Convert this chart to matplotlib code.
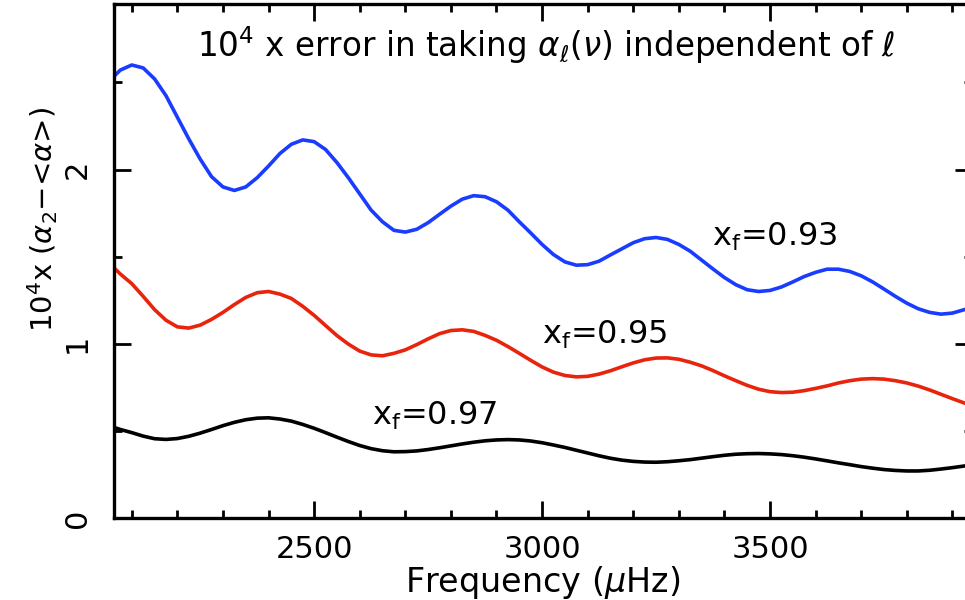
import numpy as np
import matplotlib
matplotlib.use("Agg")
import matplotlib.pyplot as plt
from matplotlib.ticker import MultipleLocator

# frequency grid (muHz)
freq = [2061] + list(range(2075, 3926, 25)) + [3943]

# 10^4 x (alpha_2 - <alpha>) for x_f = 0.93, 0.95, 0.97
err_093 = [2.535, 2.571, 2.60, 2.583, 2.52, 2.424, 2.30, 2.176, 2.06, 1.959,
           1.90, 1.88, 1.90, 1.953, 2.02, 2.092, 2.145, 2.17, 2.16, 2.115,
           2.04, 1.953, 1.86, 1.767, 1.70, 1.651, 1.641, 1.657, 1.695, 1.743,
           1.79, 1.83, 1.85, 1.844, 1.815, 1.767, 1.70, 1.636, 1.57, 1.512,
           1.47, 1.451, 1.454, 1.474, 1.51, 1.545, 1.58, 1.603, 1.61, 1.599,
           1.57, 1.531, 1.48, 1.429, 1.38, 1.339, 1.31, 1.30, 1.306, 1.326,
           1.355, 1.386, 1.41, 1.428, 1.428, 1.415, 1.39, 1.355, 1.314, 1.272,
           1.233, 1.201, 1.18, 1.17, 1.176, 1.195, 1.21]

err_095 = [1.436, 1.40, 1.345, 1.272, 1.196, 1.135, 1.097, 1.09, 1.107, 1.14,
           1.18, 1.225, 1.266, 1.293, 1.30, 1.285, 1.26, 1.215, 1.163, 1.105,
           1.047, 0.998, 0.958, 0.936, 0.931, 0.945, 0.965, 0.995, 1.028, 1.058,
           1.076, 1.08, 1.071, 1.048, 1.02, 0.984, 0.945, 0.905, 0.867, 0.837,
           0.818, 0.81, 0.813, 0.826, 0.845, 0.868, 0.89, 0.908, 0.918, 0.919,
           0.911, 0.894, 0.873, 0.846, 0.816, 0.788, 0.761, 0.739, 0.725, 0.72,
           0.722, 0.731, 0.744, 0.758, 0.775, 0.788, 0.797, 0.80, 0.797, 0.788,
           0.775, 0.757, 0.735, 0.71, 0.685, 0.661, 0.645]

err_097 = [0.52, 0.508, 0.49, 0.47, 0.455, 0.451, 0.456, 0.469, 0.487, 0.508,
           0.53, 0.549, 0.564, 0.573, 0.575, 0.568, 0.556, 0.537, 0.515, 0.49,
           0.464, 0.439, 0.416, 0.398, 0.386, 0.38, 0.381, 0.385, 0.393, 0.403,
           0.414, 0.425, 0.435, 0.443, 0.448, 0.45, 0.448, 0.442, 0.432, 0.419,
           0.405, 0.389, 0.373, 0.357, 0.343, 0.332, 0.325, 0.321, 0.32, 0.323,
           0.3285, 0.335, 0.3435, 0.352, 0.36, 0.366, 0.369, 0.37, 0.368, 0.364,
           0.3575, 0.349, 0.339, 0.328, 0.3165, 0.306, 0.295, 0.286, 0.278, 0.273,
           0.27, 0.27, 0.274, 0.281, 0.289, 0.298, 0.305]

labels = [r"x$_\mathregular{f}$=0.93", r"x$_\mathregular{f}$=0.95", r"x$_\mathregular{f}$=0.97"]
label_pos = [(3372, 1.615), (3000, 1.05), (2627, 0.586)]

plt.rcParams['font.family'] = ['DejaVu Sans']
plt.rcParams['mathtext.fontset'] = 'dejavusans'

fig = plt.figure(figsize=(9.65, 6.0), dpi=100)
ax = fig.add_axes([114 / 965, 82 / 600, (972 - 114) / 965, 514 / 600])

ax.plot(freq, err_093, color='#1a3cff', lw=2.6)
ax.plot(freq, err_095, color='#e8240c', lw=2.6)
ax.plot(freq, err_097, color='black', lw=2.6)

for txt, (x, y) in zip(labels, label_pos):
    ax.text(x, y, txt, fontsize=23, ha='left', va='center')

ax.text(0.504, 0.92, r"10$^4$ x error in taking $\alpha_{\ell}(\nu)$ independent of $\ell$",
        transform=ax.transAxes, fontsize=23.5, ha='center', va='center')

ax.set_xlim(2061, 3943)
ax.set_ylim(0, 2.95)

ax.xaxis.set_major_locator(MultipleLocator(500))
ax.xaxis.set_minor_locator(MultipleLocator(100))
ax.yaxis.set_major_locator(MultipleLocator(1))
ax.yaxis.set_minor_locator(MultipleLocator(0.5))
ax.tick_params(which='both', direction='in', top=True, right=True, width=2, labelsize=22)
ax.tick_params(which='major', length=12.5)
ax.tick_params(which='minor', length=6)
ax.tick_params(axis='x', pad=12)
ax.tick_params(axis='y', pad=16)
for lab in ax.get_yticklabels():
    lab.set_rotation(90)
    lab.set_va('center')
for s in ax.spines.values():
    s.set_linewidth(2.4)

ax.set_xlabel(r"Frequency ($\mu$Hz)", fontsize=24)
ax.set_ylabel(r"10$^4$x ($\alpha_2$$-$<$\alpha$>)", fontsize=21)
ax.yaxis.set_label_coords(-0.063, 0.58)
ax.xaxis.set_label_coords(0.4995, -0.089)

fig.savefig("out.png", dpi=100)
